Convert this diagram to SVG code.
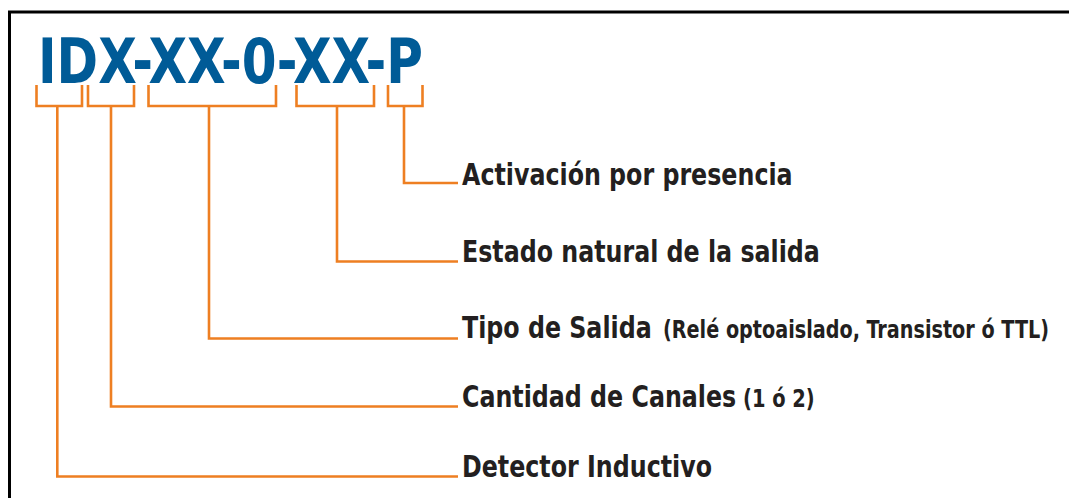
<svg xmlns="http://www.w3.org/2000/svg" width="1069" height="498" viewBox="0 0 1069 498">
<style>
.frame{fill:none;stroke:#000;stroke-width:3}
.br{fill:none;stroke:#ee7f22;stroke-width:2.6}
.title{font-family:"DejaVu Sans Condensed","DejaVu Sans","Liberation Sans",sans-serif;font-weight:bold;font-size:62px;fill:#005b97}
.lbl{font-family:"DejaVu Sans Condensed","DejaVu Sans","Liberation Sans",sans-serif;font-weight:bold;font-size:30px;fill:#231f20}
.sm{font-family:"DejaVu Sans Condensed","DejaVu Sans","Liberation Sans",sans-serif;font-weight:bold;font-size:24px;fill:#231f20}
</style>
<rect class="frame" x="9.5" y="12" width="1100" height="600"/>
<g id="title">
<text class="title" x="38" y="83" textLength="385" lengthAdjust="spacingAndGlyphs">IDX-XX-0-XX-P</text>
</g>
<g id="connectors">
<path class="br" d="M36.5,85 V106 H82 V85"/>
<path class="br" d="M88,85 V106 H134 V85"/>
<path class="br" d="M148.5,85 V106 H276 V85"/>
<path class="br" d="M296.5,85 V106 H374 V85"/>
<path class="br" d="M388,85 V106 H422.5 V85"/>
<path class="br" d="M404,106 V183 H458"/>
<path class="br" d="M337,106 V261.5 H458"/>
<path class="br" d="M209,106 V338.5 H458"/>
<path class="br" d="M111,106 V406.5 H458"/>
<path class="br" d="M57.3,106 V476.5 H458"/>
</g>
<g id="n-activacion">
<text class="lbl" transform="translate(462,185) scale(0.88,1)">Activación por presencia</text>
</g>
<g id="n-estado">
<text class="lbl" transform="translate(462,262) scale(0.88,1)">Estado natural de la salida</text>
</g>
<g id="n-tipo">
<text class="lbl" transform="translate(462,338) scale(0.88,1)">Tipo de Salida</text>
<text class="sm" transform="translate(663,338) scale(0.89,1)">(Relé optoaislado, Transistor ó TTL)</text>
</g>
<g id="n-cantidad">
<text class="lbl" transform="translate(462,407) scale(0.88,1)">Cantidad de Canales</text>
<text class="sm" transform="translate(743,407) scale(0.9,1)">(1 ó 2)</text>
</g>
<g id="n-detector">
<text class="lbl" transform="translate(462,477) scale(0.88,1)">Detector Inductivo</text>
</g>
</svg>
